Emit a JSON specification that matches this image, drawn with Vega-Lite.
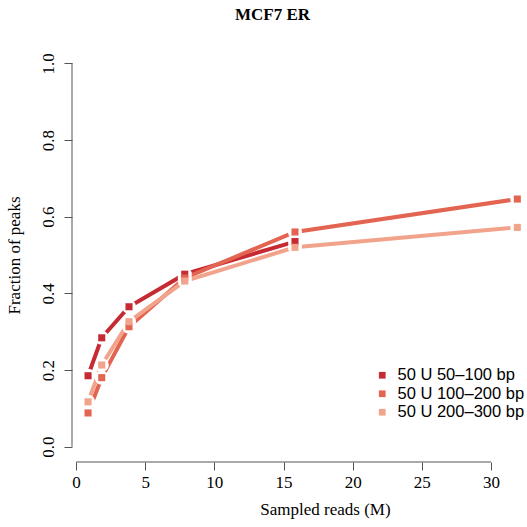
{
  "$schema": "https://vega.github.io/schema/vega-lite/v6.json",
  "width": 455,
  "height": 414,
  "autosize": "none",
  "padding": {"left": 72, "top": 48, "right": 0, "bottom": 65},
  "background": "white",
  "title": {
    "text": "MCF7 ER",
    "font": "Liberation Serif",
    "fontSize": 17,
    "fontWeight": "bold",
    "color": "black",
    "anchor": "middle",
    "dx": -27,
    "offset": 11,
    "baseline": "alphabetic"
  },
  "config": {"view": {"stroke": null}},
  "datasets": {
    "peaks": [
      {"reads": 0.87, "frac": 0.185, "series": "50 U 50–100 bp"},
      {"reads": 1.86, "frac": 0.284, "series": "50 U 50–100 bp"},
      {"reads": 3.83, "frac": 0.365, "series": "50 U 50–100 bp"},
      {"reads": 7.86, "frac": 0.45, "series": "50 U 50–100 bp"},
      {"reads": 15.83, "frac": 0.535, "series": "50 U 50–100 bp"},
      {"reads": 0.87, "frac": 0.088, "series": "50 U 100–200 bp"},
      {"reads": 1.86, "frac": 0.18, "series": "50 U 100–200 bp"},
      {"reads": 3.83, "frac": 0.313, "series": "50 U 100–200 bp"},
      {"reads": 7.86, "frac": 0.44, "series": "50 U 100–200 bp"},
      {"reads": 15.83, "frac": 0.56, "series": "50 U 100–200 bp"},
      {"reads": 31.9, "frac": 0.646, "series": "50 U 100–200 bp"},
      {"reads": 0.87, "frac": 0.117, "series": "50 U 200–300 bp"},
      {"reads": 1.86, "frac": 0.213, "series": "50 U 200–300 bp"},
      {"reads": 3.83, "frac": 0.326, "series": "50 U 200–300 bp"},
      {"reads": 7.86, "frac": 0.432, "series": "50 U 200–300 bp"},
      {"reads": 15.83, "frac": 0.52, "series": "50 U 200–300 bp"},
      {"reads": 31.9, "frac": 0.572, "series": "50 U 200–300 bp"}
    ],
    "axislines": [
      {"x": 0, "x2": 30, "y": -0.04, "y2": -0.04},
      {"x": -0.29, "x2": -0.29, "y": 0, "y2": 1}
    ]
  },
  "layer": [
    {
      "data": {"name": "peaks"},
      "mark": {"type": "line", "strokeWidth": 4, "strokeCap": "butt"},
      "encoding": {
        "x": {
          "field": "reads",
          "type": "quantitative",
          "scale": {"domain": [-0.29, 32.6], "nice": false, "zero": false},
          "axis": {
            "domain": false,
            "grid": false,
            "values": [0, 5, 10, 15, 20, 25, 30],
            "tickSize": 8,
            "tickColor": "#555555",
            "labelFont": "Liberation Serif",
            "labelFontSize": 17,
            "labelColor": "black",
            "labelPadding": 4,
            "labelFlush": false,
            "title": "Sampled reads (M)",
            "titleFont": "Liberation Serif",
            "titleFontSize": 17,
            "titleFontWeight": "normal",
            "titleColor": "black",
            "titleX": 253,
            "titleY": 52,
            "titleAlign": "center",
            "titleBaseline": "alphabetic"
          }
        },
        "y": {
          "field": "frac",
          "type": "quantitative",
          "scale": {"domain": [-0.04, 1.04], "nice": false, "zero": false},
          "axis": {
            "domain": false,
            "grid": false,
            "values": [0, 0.2, 0.4, 0.6, 0.8, 1.0],
            "format": ".1f",
            "tickSize": 8,
            "tickColor": "#555555",
            "labelFont": "Liberation Serif",
            "labelFontSize": 17,
            "labelColor": "black",
            "labelAngle": 270,
            "labelAlign": "center",
            "labelBaseline": "alphabetic",
            "labelPadding": 11,
            "labelFlush": false,
            "title": "Fraction of peaks",
            "titleFont": "Liberation Serif",
            "titleFontSize": 17,
            "titleFontWeight": "normal",
            "titleColor": "black",
            "titleAngle": 270,
            "titleX": -53,
            "titleY": 207,
            "titleAlign": "center",
            "titleBaseline": "alphabetic"
          }
        },
        "color": {
          "field": "series",
          "type": "nominal",
          "scale": {
            "domain": ["50 U 50–100 bp", "50 U 100–200 bp", "50 U 200–300 bp"],
            "range": ["#C62A32", "#E36450", "#F2A38B"]
          },
          "legend": {
            "title": null,
            "orient": "none",
            "legendX": 302,
            "legendY": 319,
            "padding": 0,
            "symbolType": "square",
            "symbolSize": 45,
            "symbolStrokeWidth": 0,
            "symbolOpacity": 1,
            "labelFont": "Liberation Sans",
            "labelFontSize": 16.5,
            "labelColor": "black",
            "labelOffset": 7,
            "rowPadding": 1.5
          }
        }
      }
    },
    {
      "data": {"name": "peaks"},
      "mark": {"type": "point", "shape": "circle", "filled": true, "color": "white", "size": 200, "opacity": 1},
      "encoding": {
        "x": {"field": "reads", "type": "quantitative"},
        "y": {"field": "frac", "type": "quantitative"}
      }
    },
    {
      "data": {"name": "peaks"},
      "mark": {"type": "point", "shape": "square", "filled": true, "size": 50, "opacity": 1},
      "encoding": {
        "x": {"field": "reads", "type": "quantitative"},
        "y": {"field": "frac", "type": "quantitative"},
        "color": {
          "field": "series",
          "type": "nominal",
          "legend": {
            "title": null,
            "orient": "none",
            "legendX": 302,
            "legendY": 319,
            "padding": 0,
            "symbolType": "square",
            "symbolSize": 45,
            "symbolStrokeWidth": 0,
            "symbolOpacity": 1,
            "labelFont": "Liberation Sans",
            "labelFontSize": 16.5,
            "labelColor": "black",
            "labelOffset": 7,
            "rowPadding": 1.5
          }
        }
      }
    },
    {
      "data": {"name": "axislines"},
      "mark": {"type": "rule", "color": "#555555", "strokeWidth": 1},
      "encoding": {
        "x": {"field": "x", "type": "quantitative"},
        "x2": {"field": "x2"},
        "y": {"field": "y", "type": "quantitative"},
        "y2": {"field": "y2"}
      }
    }
  ]
}
